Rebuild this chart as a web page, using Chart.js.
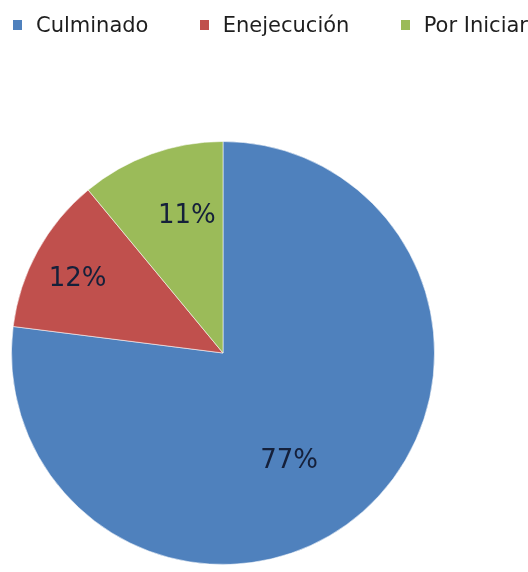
<!DOCTYPE html>
<html>
<head>
<meta charset="utf-8">
<script src="https://cdn.jsdelivr.net/npm/chart.js@4.4.1/dist/chart.umd.min.js"></script>
<style>
	html, body { margin: 0; padding: 0; background: #fff; }
	#wrap { position: relative; width: 528px; height: 572px; }
	#legend {
		position: absolute; top: 13px; left: 13px; right: 0px;
		display: flex; justify-content: space-between; align-items: center;
		font-family: "DejaVu Sans", sans-serif; font-size: 21px; color: #1e1e1e;
	}
	#legend .item { display: flex; align-items: center; }
	#legend .box { width: 9px; height: 10px; margin-right: 14px; }
</style>
</head>
<body>
<div id="wrap">
	<canvas id="pieChart" width="528" height="572"></canvas>
	<div id="legend"></div>
</div>
<script>
// data
const categories = ['Culminado', 'Enejecución', 'Por Iniciar'];
const shares = [77, 12, 11];
const sliceColors = ['#4f81bd', '#c0504d', '#9bbb59'];

// legend (html)
const legendBox = document.getElementById('legend');
categories.forEach((name, i) => {
	const item = document.createElement('div');
	item.className = 'item';
	item.innerHTML = '<span class="box" style="background:' + sliceColors[i] + '"></span><span>' + name + '</span>';
	legendBox.appendChild(item);
});

// percent labels inside the slices
const sliceLabels = {
	id: 'sliceLabels',
	afterDatasetsDraw(chart, args, opts) {
		const ctx = chart.ctx;
		const meta = chart.getDatasetMeta(0);
		ctx.save();
		ctx.font = '26px "DejaVu Sans"';
		ctx.fillStyle = '#15203a';
		ctx.textAlign = 'center';
		ctx.textBaseline = 'middle';
		meta.data.forEach((arc, i) => {
			const mid = (arc.startAngle + arc.endAngle) / 2 + opts.turn[i] * Math.PI / 180;
			const r = arc.outerRadius * opts.dist[i];
			const x = arc.x + Math.cos(mid) * r;
			const y = arc.y + Math.sin(mid) * r;
			ctx.fillText(shares[i] + '%', x, y);
		});
		ctx.restore();
	}
};

const ctx = document.getElementById('pieChart').getContext('2d');
new Chart(ctx, {
	type: 'pie',
	data: {
		labels: categories,
		datasets: [{
			data: shares,
			backgroundColor: sliceColors,
			borderColor: 'rgba(255,255,255,0.55)',
			borderWidth: 1
		}]
	},
	options: {
		responsive: false,
		animation: false,
		layout: { padding: { top: 141, left: 11, right: 93, bottom: 7 } },
		plugins: {
			legend: { display: false },
			tooltip: { enabled: false },
			sliceLabels: { dist: [0.6, 0.77, 0.67], turn: [10, -2, 5] }
		}
	},
	plugins: [sliceLabels]
});
</script>
</body>
</html>
